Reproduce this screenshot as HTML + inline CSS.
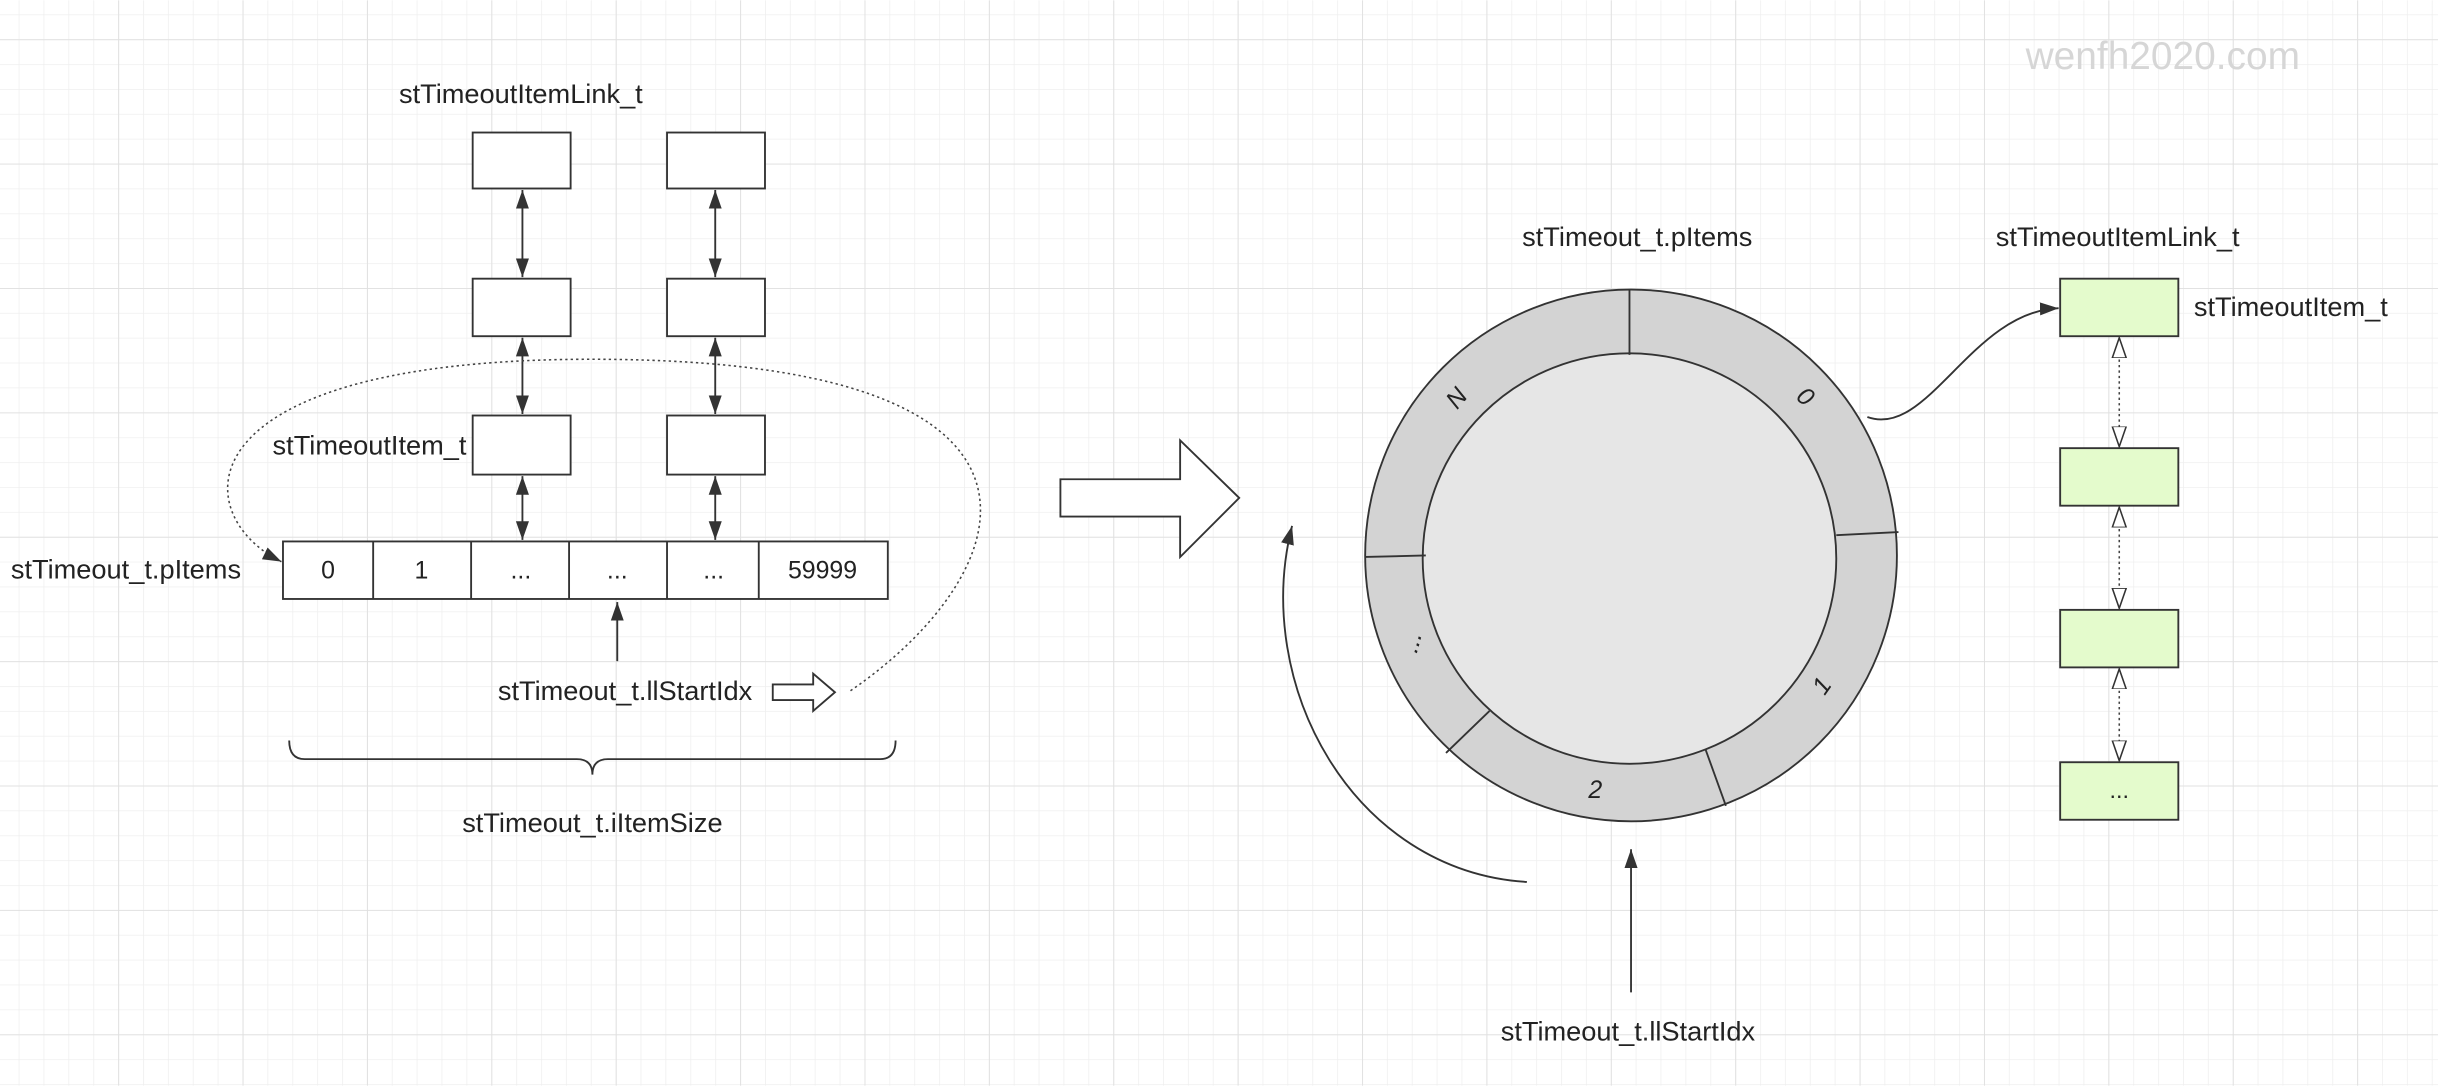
<!DOCTYPE html>
<html><head><meta charset="utf-8"><style>
html,body{margin:0;padding:0;background:#fff}
svg{display:block}
text{font-family:"Liberation Sans",sans-serif;fill:#222}
</style></head><body>
<svg width="2438" height="1086" viewBox="0 0 1568 698" xmlns="http://www.w3.org/2000/svg">
<defs>
<pattern id="minor" width="16" height="16" patternUnits="userSpaceOnUse" x="12" y="9">
<path d="M0 0H16M0 0V16" stroke="#efefef" stroke-width="1" fill="none"/></pattern>
<pattern id="major" width="80" height="80" patternUnits="userSpaceOnUse" x="76" y="25">
<path d="M0 0H80M0 0V80" stroke="#e0e0e0" stroke-width="1.2" fill="none"/></pattern>
<marker id="af" markerWidth="13" markerHeight="10" refX="12" refY="5" orient="auto-start-reverse" markerUnits="userSpaceOnUse">
<path d="M0,0.8 L12,5 L0,9.2 Z" fill="#333"/></marker>
<marker id="ah" markerWidth="14" markerHeight="12" refX="13" refY="6" orient="auto-start-reverse" markerUnits="userSpaceOnUse">
<path d="M0,1.5 L13,6 L0,10.5 Z" fill="#fff" stroke="#333" stroke-width="1"/></marker>
</defs>
<rect width="1568" height="698" fill="url(#minor)"/>
<rect width="1568" height="698" fill="url(#major)"/>
<text x="1391" y="44" font-size="25" text-anchor="middle" style="fill:#d6d6d6">wenfh2020.com</text>

<g stroke="#333" stroke-width="1.2" fill="#fff">
<rect x="304" y="85" width="63" height="36"/><rect x="429" y="85" width="63" height="36"/>
<rect x="304" y="179" width="63" height="37"/><rect x="429" y="179" width="63" height="37"/>
<rect x="304" y="267" width="63" height="38"/><rect x="429" y="267" width="63" height="38"/>
<rect x="182" y="348" width="389" height="37"/>
<path d="M240 348V385M303 348V385M366 348V385M429 348V385M488 348V385" fill="none"/>
</g>
<g stroke="#333" stroke-width="1.2" fill="none" marker-start="url(#af)" marker-end="url(#af)">
<path d="M336 122V178"/><path d="M460 122V178"/>
<path d="M336 217V266"/><path d="M460 217V266"/>
<path d="M336 306V347"/><path d="M460 306V347"/>
</g>
<path d="M397 425V387" stroke="#333" stroke-width="1.2" marker-end="url(#af)"/>
<path d="M547,444 C655,370 705,236 400,231 C115,226 118,330 181,361" stroke="#444" stroke-width="1" stroke-dasharray="1.5,2" fill="none" marker-end="url(#af)"/>
<path d="M497,440 H523 V433 L537,445 L523,457 V450 H497 Z" fill="#fff" stroke="#333" stroke-width="1.2"/>
<path d="M186,476 Q186,488 196,488 H371 Q381,488 381,498 Q381,488 391,488 H566 Q576,488 576,476" fill="none" stroke="#333" stroke-width="1.2"/>
<g font-size="17.5">
<text x="335" y="66" text-anchor="middle">stTimeoutItemLink_t</text>
<text x="300" y="292" text-anchor="end">stTimeoutItem_t</text>
<text x="7" y="372">stTimeout_t.pItems</text>
<text x="211" y="372" text-anchor="middle" font-size="16">0</text>
<text x="271" y="372" text-anchor="middle" font-size="16">1</text>
<text x="335" y="372" text-anchor="middle" font-size="16">...</text>
<text x="397" y="372" text-anchor="middle" font-size="16">...</text>
<text x="459" y="372" text-anchor="middle" font-size="16">...</text>
<text x="529" y="372" text-anchor="middle" font-size="16">59999</text>
<text x="402" y="450" text-anchor="middle">stTimeout_t.llStartIdx</text>
<text x="381" y="535" text-anchor="middle">stTimeout_t.iItemSize</text>
</g>

<path d="M682,308 H759 V283 L797,320 L759,358 V332 H682 Z" fill="#fff" stroke="#333" stroke-width="1.2"/>

<ellipse cx="1049" cy="357" rx="171" ry="171" fill="#d3d3d3" stroke="#333" stroke-width="1.2"/>
<ellipse cx="1048" cy="359" rx="133" ry="132" fill="#e6e6e6" stroke="#333" stroke-width="1.2"/>
<g stroke="#333" stroke-width="1.2">
<path d="M1048 186V228M1181 344L1221 342M878 358L917 357M930 484L958 457M1097 482L1110 518"/>
</g>
<g font-size="16" font-style="italic" style="fill:#333">
<text x="1161" y="260" text-anchor="middle" transform="rotate(40 1161 255)">0</text>
<text x="937" y="261" text-anchor="middle" transform="rotate(-50 937 256)">N</text>
<text x="1172" y="446" text-anchor="middle" transform="rotate(-55 1172 441)">1</text>
<text x="1026" y="513" text-anchor="middle">2</text>
<text x="909" y="417" text-anchor="middle" transform="rotate(-75 909 413)">...</text>
</g>
<path d="M1201,268 C1240,282 1268,200 1324,198" stroke="#333" stroke-width="1.2" fill="none" marker-end="url(#af)"/>
<path d="M982,567 C870,560 805,440 831,338" stroke="#333" stroke-width="1.2" fill="none" marker-end="url(#af)"/>
<path d="M1049,638 V546" stroke="#333" stroke-width="1.2" marker-end="url(#af)"/>

<g stroke="#333" stroke-width="1.2" fill="#e4fbcc">
<rect x="1325" y="179" width="76" height="37"/>
<rect x="1325" y="288" width="76" height="37"/>
<rect x="1325" y="392" width="76" height="37"/>
<rect x="1325" y="490" width="76" height="37"/>
</g>
<g stroke="#444" stroke-width="1" stroke-dasharray="1.5,2" fill="none" marker-start="url(#ah)" marker-end="url(#ah)">
<path d="M1363 217V287"/><path d="M1363 326V391"/><path d="M1363 430V489"/>
</g>
<g font-size="17.5">
<text x="1053" y="158" text-anchor="middle">stTimeout_t.pItems</text>
<text x="1362" y="158" text-anchor="middle">stTimeoutItemLink_t</text>
<text x="1411" y="203">stTimeoutItem_t</text>
<text x="1363" y="513" text-anchor="middle" font-size="15">...</text>
<text x="1047" y="669" text-anchor="middle">stTimeout_t.llStartIdx</text>
</g>
</svg>
</body></html>
